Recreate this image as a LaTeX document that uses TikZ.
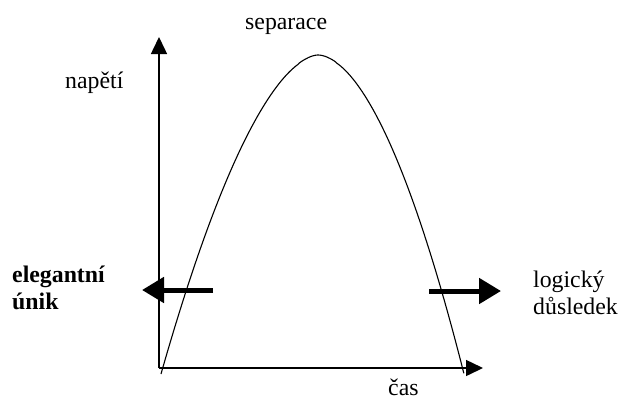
\documentclass[tikz,border=0pt]{standalone}
\usepackage{fontspec}
\setmainfont{Liberation Serif}
\usetikzlibrary{arrows.meta}
\tikzset{
  lbl/.style={inner sep=0pt, anchor=base west, font=\fontsize{23.8}{27}\selectfont},
  axisline/.style={line width=1.5pt, -{Triangle[length=17pt,width=16pt]}},
  thickarrow/.style={line width=5pt, -{Triangle[length=22pt,width=25pt]}},
  curveline/.style={line width=1.1pt}
}
\begin{document}
\begin{tikzpicture}[x=1pt,y=-1pt]
\useasboundingbox (0,0) rectangle (620,400);
\coordinate (origin) at (159,368);
\coordinate (yend) at (159,37);
\coordinate (xend) at (483,368);
\coordinate (peak) at (318,55);
\draw[axisline] (origin) -- (yend);
\draw[axisline] (origin) -- (xend);
\draw[curveline] plot[domain=1:0.002, samples=120, variable=\t]
   ({318-157*\t},{55+319*pow(\t,1.73)}) -- (peak)
   -- plot[domain=0.002:1, samples=120, variable=\t]
   ({318+146*\t},{55+319*pow(\t,1.81)});
\coordinate (la1) at (213,290);
\coordinate (la2) at (142,290);
\coordinate (ra1) at (429,291);
\coordinate (ra2) at (501,291);
\draw[thickarrow] (la1) -- (la2);
\draw[thickarrow] (ra1) -- (ra2);
\node[lbl] (sep) at (245,29) {separace};
\node[lbl] (nap) at (65,88) {napětí};
\node[lbl, font=\fontsize{23.8}{27}\selectfont\bfseries, align=left] (eleg) at (12,309) {elegantní\\únik};
\node[lbl, align=left] (log) at (533,314) {logický\\důsledek};
\node[lbl] (cas) at (388,395) {čas};
\end{tikzpicture}
\end{document}
